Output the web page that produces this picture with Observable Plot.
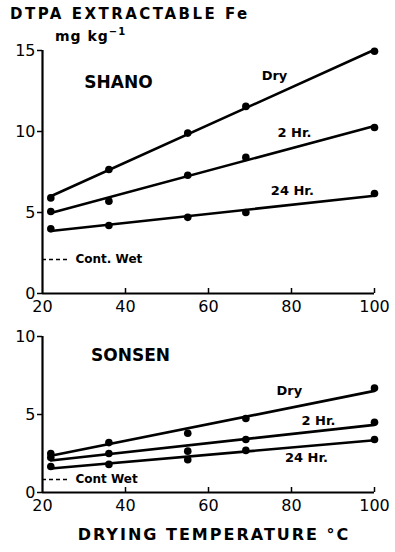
<!DOCTYPE html>
<html>
<head>
<meta charset="utf-8">
<script src="https://cdn.jsdelivr.net/npm/d3@7"></script>
<script src="https://cdn.jsdelivr.net/npm/@observablehq/plot@0.6"></script>
<style>
  html, body { margin: 0; padding: 0; background: white; }
  #wrap { position: relative; width: 395px; height: 552px; overflow: hidden; font-family: "DejaVu Sans", sans-serif; color: black; }
  #wrap svg { position: absolute; left: 0; }
  .t { position: absolute; font-weight: bold; white-space: nowrap; z-index: 2; }
</style>
</head>
<body>
<div id="wrap"></div>
<script>
// ---- data ----
const xTicks = [20, 40, 60, 80, 100];
const temps = [22, 36, 55, 69, 100];
const seriesNames = ["Dry", "2 Hr.", "24 Hr."];

const shanoDry = [5.9, 7.65, 9.9, 11.55, 14.95];
const shano2h  = [5.06, 5.7, 7.3, 8.4, 10.25];
const shano24h = [4.0, 4.2, 4.7, 5.0, 6.17];
const shanoWet = 2.1;
const shanoYTicks = [0, 5, 10, 15];

const sonsenDry = [2.5, 3.2, 3.8, 4.74, 6.7];
const sonsen2h  = [2.25, 2.5, 2.65, 3.4, 4.5];
const sonsen24h = [1.67, 1.8, 2.1, 2.7, 3.4];
const sonsenWet = 0.83;
const sonsenYTicks = [0, 5, 10];

// label anchor points (data units)
const shanoLabelX = [75.9, 80.7, 80.2];
const shanoLabelY = [13.46, 9.94, 6.33];
const sonsenLabelX = [79.5, 86.5, 83.6];
const sonsenLabelY = [6.5, 4.6, 2.25];

function rows(seriesArrays) {
  const out = [];
  seriesArrays.forEach((vals, i) => vals.forEach((v, j) => out.push({s: seriesNames[i], t: temps[j], v})));
  return out;
}
function labelRows(xs, ys) {
  return seriesNames.map((s, i) => ({s, x: xs[i], y: ys[i]}));
}

const W = 395, ML = 42, MR = 21;

function panel({data, yTicks, yMax, height, marginTop, marginBottom, labels, name, nameX, nameY, wet, wetLabel}) {
  const innerH = height - marginTop - marginBottom;
  const innerW = W - ML - MR;
  return Plot.plot({
    width: W, height, marginLeft: ML, marginRight: MR, marginTop, marginBottom,
    x: {domain: [20, 100]},
    y: {domain: [0, yMax]},
    style: {fontFamily: "DejaVu Sans, sans-serif", background: "transparent", color: "black", overflow: "visible"},
    marks: [
      Plot.axisY(yTicks, {tickSize: 5, tickPadding: 2, fontSize: 16, label: null, strokeWidth: 1.5}),
      Plot.axisX(xTicks, {tickSize: 0, tickPadding: 7, fontSize: 16, label: null}),
      Plot.tickX(xTicks.slice(1), {x: d => d, insetTop: innerH - 5, strokeWidth: 1.5}),
      Plot.ruleX([20], {strokeWidth: 2.2}),
      Plot.ruleY([0], {strokeWidth: 2.2}),
      Plot.linearRegressionY(data, {x: "t", y: "v", z: "s", ci: 0, stroke: "black", strokeWidth: 2.6}),
      Plot.dot(data, {x: "t", y: "v", r: 3.8, fill: "black"}),
      Plot.tickY([wet], {y: d => d, insetRight: innerW - 25, strokeDasharray: "4,3", strokeWidth: 1.6}),
      Plot.text([wet], {y: d => d, text: () => wetLabel, frameAnchor: "left", textAnchor: "start", dx: 33, fontSize: 12, fontWeight: "bold"}),
      Plot.text(labels, {x: "x", y: "y", text: "s", fontSize: 13, fontWeight: "bold"}),
      Plot.text([name], {x: () => nameX, y: () => nameY, text: d => d, fontSize: 17, fontWeight: "bold", letterSpacing: 1})
    ]
  });
}

const wrap = document.getElementById("wrap");

const p1 = panel({
  data: rows([shanoDry, shano2h, shano24h]), yTicks: shanoYTicks, yMax: 15,
  height: 320, marginTop: 50, marginBottom: 27,
  labels: labelRows(shanoLabelX, shanoLabelY),
  name: "SHANO", nameX: 38.3, nameY: 13.0, wet: shanoWet, wetLabel: "Cont. Wet"
});
p1.style.top = "0px";
wrap.appendChild(p1);

const p2 = panel({
  data: rows([sonsenDry, sonsen2h, sonsen24h]), yTicks: sonsenYTicks, yMax: 10,
  height: 200, marginTop: 16, marginBottom: 28,
  labels: labelRows(sonsenLabelX, sonsenLabelY),
  name: "SONSEN", nameX: 41.2, nameY: 8.8, wet: sonsenWet, wetLabel: "Cont Wet"
});
p2.style.top = "320px";
wrap.appendChild(p2);

function addText(txt, css) {
  const d = document.createElement("div");
  d.className = "t";
  d.innerHTML = txt;
  Object.assign(d.style, css);
  wrap.appendChild(d);
}
addText("DTPA EXTRACTABLE Fe", {left: "10px", top: "5px", fontSize: "15px", letterSpacing: "2.5px"});
addText("mg kg<sup style='font-size:10px'>−1</sup>", {left: "55px", top: "26px", fontSize: "14px", letterSpacing: "1px"});
addText("DRYING TEMPERATURE °C", {left: "0px", width: "428px", textAlign: "center", top: "525px", fontSize: "16px", letterSpacing: "2px"});
</script>
</body>
</html>
